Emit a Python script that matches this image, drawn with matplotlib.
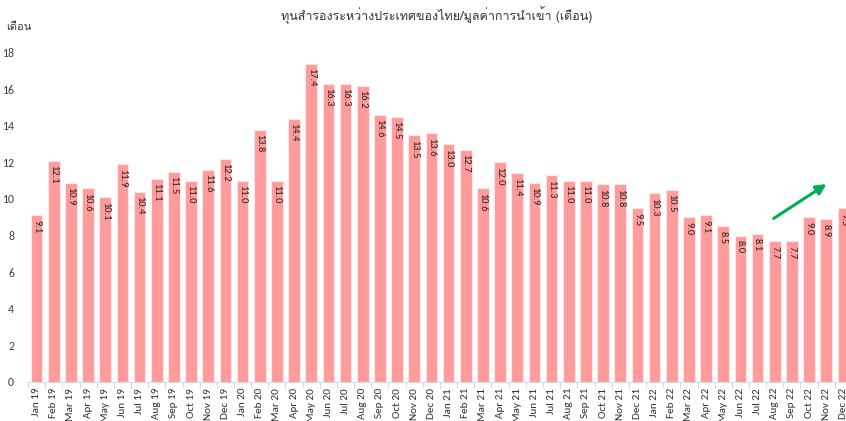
import matplotlib
matplotlib.use("Agg")
import matplotlib.pyplot as plt
from matplotlib import font_manager
import numpy as np

months = ["Jan 19","Feb 19","Mar 19","Apr 19","May 19","Jun 19","Jul 19","Aug 19","Sep 19","Oct 19","Nov 19","Dec 19",
          "Jan 20","Feb 20","Mar 20","Apr 20","May 20","Jun 20","Jul 20","Aug 20","Sep 20","Oct 20","Nov 20","Dec 20",
          "Jan 21","Feb 21","Mar 21","Apr 21","May 21","Jun 21","Jul 21","Aug 21","Sep 21","Oct 21","Nov 21","Dec 21",
          "Jan 22","Feb 22","Mar 22","Apr 22","May 22","Jun 22","Jul 22","Aug 22","Sep 22","Oct 22","Nov 22","Dec 22"]
values = [9.1,12.1,10.9,10.6,10.1,11.9,10.4,11.1,11.5,11.0,11.6,12.2,
          11.0,13.8,11.0,14.4,17.4,16.3,16.3,16.2,14.6,14.5,13.5,13.6,
          13.0,12.7,10.6,12.0,11.4,10.9,11.3,11.0,11.0,10.8,10.8,9.5,
          10.3,10.5,9.0,9.1,8.5,8.0,8.1,7.7,7.7,9.0,8.9,9.5]
yticks = [0, 2, 4, 6, 8, 10, 12, 14, 16, 18]
title = "ทุนสำรองระหว่างประเทศของไทย/มูลค่าการนำเข้า (เดือน)"
ylabel = "เดือน"
arrow_start = (42.8, 8.85)
arrow_end = (46.15, 10.9)

available = {f.name for f in font_manager.fontManager.ttflist}
latin = "Carlito" if "Carlito" in available else "Liberation Sans"
thai = [n for n in ["Loma", "Noto Sans Thai Looped", "Noto Sans Thai"] if n in available]
thai_families = thai + [latin, "DejaVu Sans"]
plt.rcParams["font.family"] = [latin, "DejaVu Sans"]

fig = plt.figure(figsize=(8.46, 4.21), dpi=100)
ax = fig.add_axes([28/846, 39.3/421, 824/846, (368.2-39.3)/421])
x = np.arange(len(months))
ax.bar(x, values, width=0.68, color="#FF9B9B", edgecolor="#FFE5E5", linewidth=0.8)
for xi, v in zip(x, values):
    ax.text(xi, v - 0.25, f"{v:.1f}", rotation=-90, ha="center", va="top",
            fontsize=7.5, color="#222222")
ax.set_xlim(-0.5, len(months) - 0.5)
ax.set_ylim(0, 18)
ax.set_yticks(yticks)
ax.set_yticklabels([str(t) for t in yticks], fontsize=8.5, color="#404040")
ax.set_xticks(x)
ax.set_xticklabels(months, rotation=90, fontsize=8, color="#303030")
ax.set_xticks(np.arange(-0.5, len(months), 1), minor=True)
ax.tick_params(axis="x", which="major", length=0, pad=4.5)
ax.tick_params(axis="x", which="minor", length=4, color="#D9D9D9", width=0.8)
ax.tick_params(axis="y", length=0, pad=10)
for s in ["top", "right", "left"]:
    ax.spines[s].set_visible(False)
ax.spines["bottom"].set_color("#D9D9D9")
ax.annotate("", xy=arrow_end, xytext=arrow_start,
            arrowprops=dict(arrowstyle="-|>,head_length=0.6,head_width=0.3", color="#00B050", lw=2.2))
fig.text(437/846, 1 - 15/421, title, ha="center", va="center", fontsize=9, family=thai_families, color="#333333")
fig.text(6/846, 1 - 27/421, ylabel, ha="left", va="center", fontsize=8, family=thai_families, color="#333333")
fig.savefig("out.png", dpi=100)
